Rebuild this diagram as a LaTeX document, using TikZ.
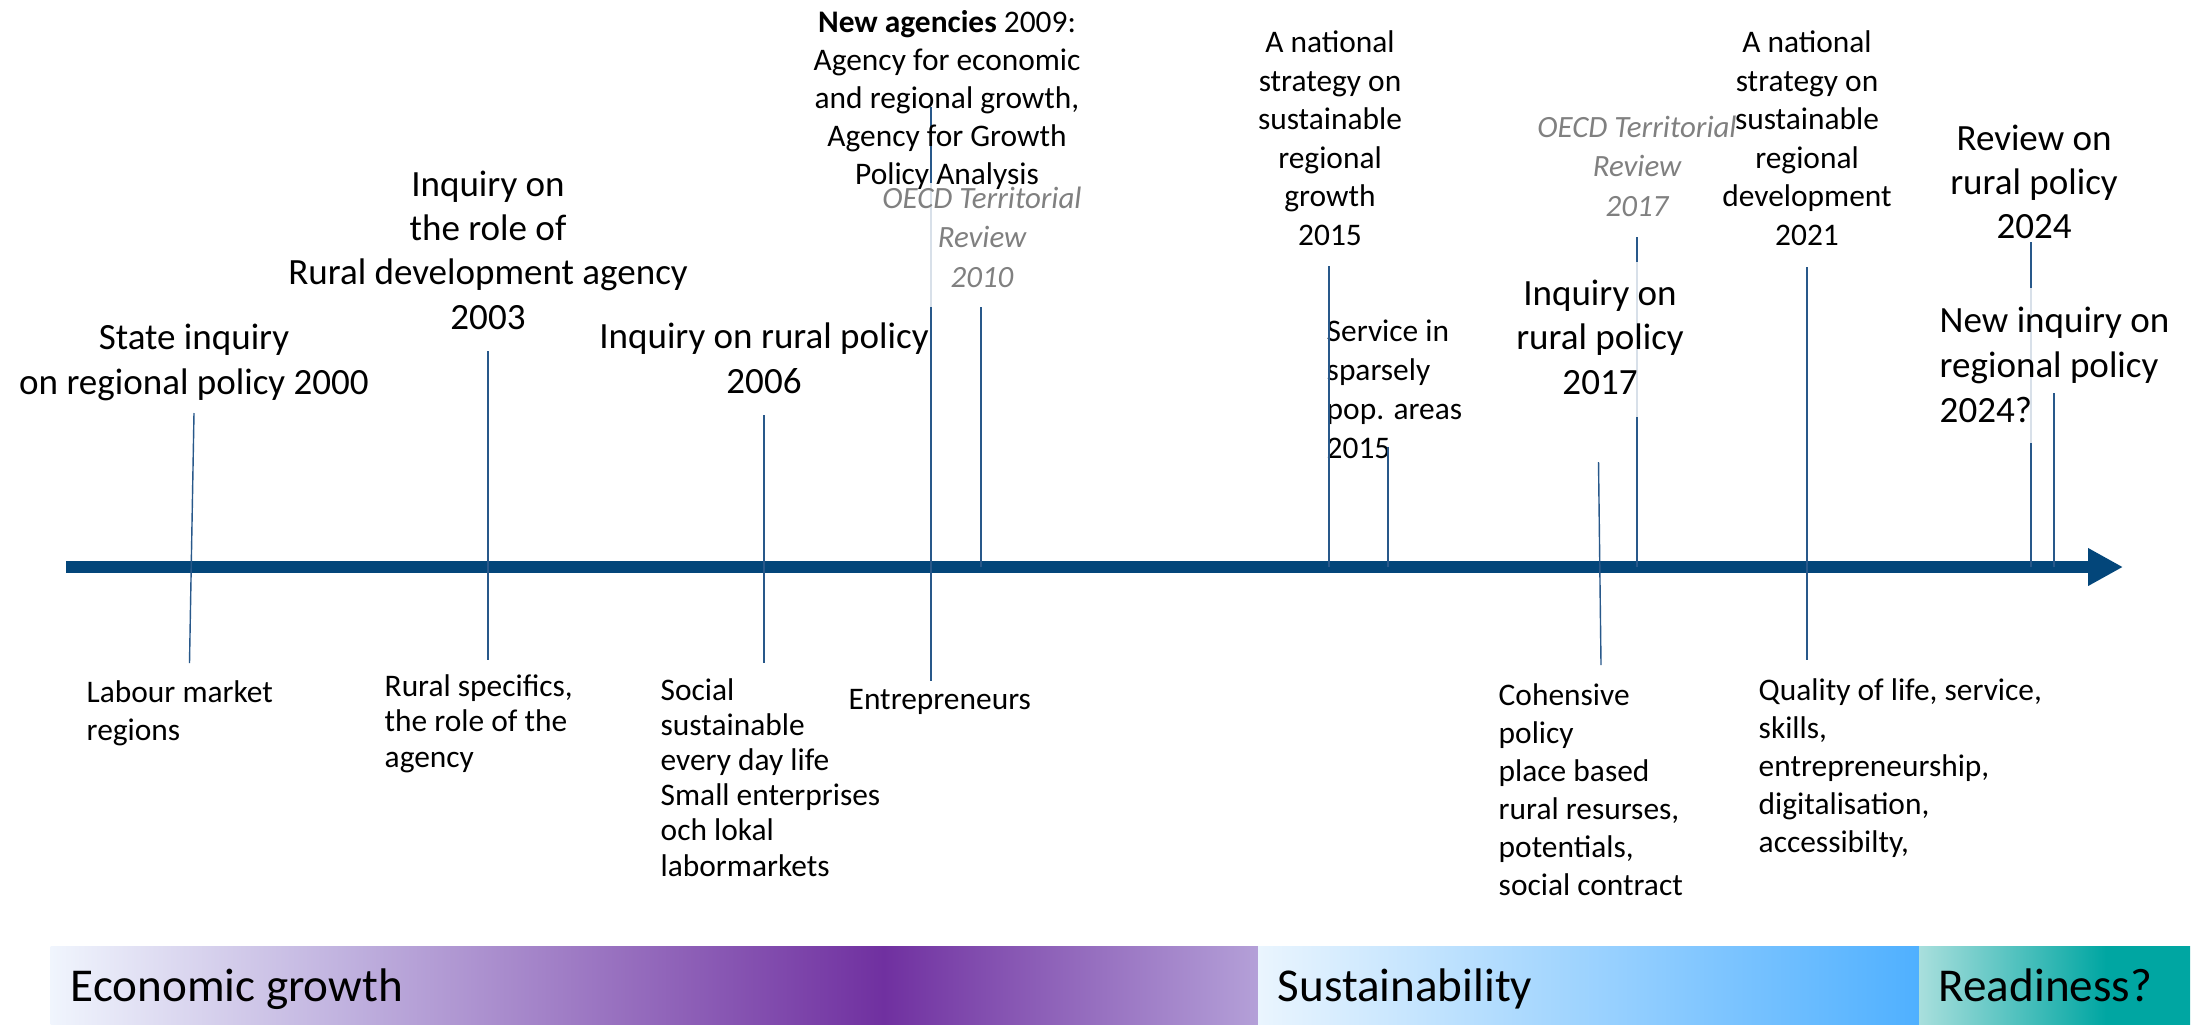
\documentclass[tikz,border=0pt]{standalone}
\usepackage{fontspec}
\setmainfont{Carlito}
\usetikzlibrary{arrows.meta}

% palette
\definecolor{axisblue}{RGB}{3,70,122}
\definecolor{tickblue}{RGB}{40,88,138}
\definecolor{oecdgray}{RGB}{128,128,128}
\definecolor{ecA}{HTML}{F0F5FD}
\definecolor{ecB}{HTML}{BFB0DE}
\definecolor{ecC}{HTML}{7030A0}
\definecolor{ecD}{HTML}{B4A0D8}
\definecolor{suA}{HTML}{EAF5FE}
\definecolor{suB}{HTML}{4FB0FF}
\definecolor{rdA}{HTML}{A9DFDD}
\definecolor{rdB}{HTML}{00A6A2}

% era bands (inner 25bp..75bp is stretched over the band)
\pgfdeclarehorizontalshading{econband}{100bp}{color(0bp)=(ecA); color(25bp)=(ecA); color(37.5bp)=(ecB); color(59.5bp)=(ecC); color(75bp)=(ecD); color(100bp)=(ecD)}
\pgfdeclarehorizontalshading{readyband}{100bp}{color(0bp)=(rdA); color(25bp)=(rdA); color(59.5bp)=(rdB); color(100bp)=(rdB)}

% multi-line labels are placed by the baseline of their last line
\tikzset{
  lbl/.style={inner sep=0pt, text=black},
  bigc/.style={lbl, align=center, anchor=base, font=\fontsize{10.53pt}{#1}\selectfont},
  bigc/.default=12.52pt,
  bigl/.style={lbl, align=left, anchor=base west, font=\fontsize{10.53pt}{#1}\selectfont},
  bigl/.default=12.52pt,
  medc/.style={lbl, align=center, anchor=base, font=\fontsize{8.93pt}{#1}\selectfont},
  medc/.default=10.93pt,
  medl/.style={lbl, align=left, anchor=base west, font=\fontsize{8.93pt}{#1}\selectfont},
  medl/.default=10.93pt,
  oecd/.style={lbl, align=center, anchor=base, text=oecdgray, font=\fontsize{8.8pt}{11.1pt}\selectfont\itshape},
  bandtxt/.style={lbl, anchor=base west, font=\fontsize{13.4pt}{16pt}\selectfont},
  veil/.style={inner sep=0pt, draw=none, fill=white, fill opacity=0.82},
  tick/.style={draw=tickblue, line width=0.4pt},
  axisline/.style={draw=axisblue, line width=3.3pt, -{Triangle[length=9.96pt, width=10.07pt]}}
}

\begin{document}
\begin{tikzpicture}[x=0.01cm, y=-0.01cm]
\useasboundingbox (0,0) rectangle (2201,1024);

% ---- era bands ----
\shade[shading=econband] (50.5,946) rectangle (1258,1024);
\shade[left color=suA, right color=suB] (1258,946) rectangle (1919,1024);
\shade[shading=readyband] (1919,946) rectangle (2190,1024);
\node[bandtxt] (tEcon) at (70,1001) {Economic growth};
\node[bandtxt] (tSust) at (1277,1001) {Sustainability};
\node[bandtxt] (tRead) at (1938,1001) {Readiness?};

% ---- time axis ----
\coordinate (axL) at (66,567);
\coordinate (axR) at (2123,567);
\draw[axisline] (axL) -- (axR);

% ---- tick end points ----
\coordinate (t2000) at (194,413);   \coordinate (e2000) at (189.5,663);
\coordinate (t2003) at (488,351);   \coordinate (e2003) at (488,660);
\coordinate (t2006) at (764,415);   \coordinate (e2006) at (764,663);
\coordinate (t2009) at (931,107);   \coordinate (e2009) at (931,681);
\coordinate (t2010) at (981,307);   \coordinate (e2010) at (981,567);
\coordinate (t2015) at (1329,266);  \coordinate (e2015) at (1329,567);
\coordinate (t2015s) at (1388,447); \coordinate (e2015s) at (1388,567);
\coordinate (t2017) at (1598.5,462);\coordinate (e2017) at (1601,665);
\coordinate (t2017o) at (1637,237); \coordinate (e2017o) at (1637,567);
\coordinate (t2021) at (1807,267);  \coordinate (e2021) at (1807,660);
\coordinate (t2024r) at (2031,242); \coordinate (e2024r) at (2031,567);
\coordinate (t2024n) at (2054,393); \coordinate (e2024n) at (2054,567);

% ticks that run behind translucent text boxes
\draw[tick] (t2009) -- (e2009);
\draw[tick] (t2017o) -- (e2017o);
\draw[tick] (t2024r) -- (e2024r);

% translucent text boxes
\node[veil, minimum width=61.2pt, minimum height=35.3pt] (vA) at (982.5,245) {};
\node[veil, minimum width=48.4pt, minimum height=44.1pt] (vB) at (1600,339.5) {};
\node[veil, minimum width=61.2pt, minimum height=44.1pt] (vC) at (2042.5,365.5) {};

% ---- events above the axis ----
\node[bigc] (n2000) at (194,394) {State inquiry\\on regional policy 2000};
\node[bigc] (n2003) at (488,329) {Inquiry on\\the role of\\Rural development agency\\2003};
\node[bigc] (n2006) at (764,393) {Inquiry on rural policy\\2006};
\node[medc=10.8pt] (n2009) at (947,184) {\textbf{New agencies} 2009:\\Agency for economic\\and regional growth,\\Agency for Growth\\Policy Analysis};
\node[oecd] (o2010) at (982,287) {OECD Territorial\\Review\\2010};
\node[medc] (n2015) at (1330,245) {A national\\strategy on\\sustainable\\regional\\growth\\2015};
\node[medl=11pt] (s2015) at (1326,458) {Service in\\sparsely\\pop. areas\\2015};
\node[bigc] (n2017) at (1600,394) {Inquiry on\\rural policy\\2017};
\node[oecd] (o2017) at (1637,216) {OECD Territorial\\Review\\2017};
\node[medc] (n2021) at (1807,245) {A national\\strategy on\\sustainable\\regional\\development\\2021};
\node[bigc=12.38pt] (n2024r) at (2034,238) {Review on\\rural policy\\2024};
\node[bigl=12.66pt] (n2024n) at (1939,422) {New inquiry on\\regional policy\\2024?};

% ---- themes below the axis ----
\node[medl=10.53pt] (b2000) at (86,740) {Labour market\\regions};
\node[medl=9.96pt] (b2003) at (384,767) {Rural specifics,\\the role of the\\agency};
\node[medl=10.0pt] (b2006) at (660,876) {Social\\sustainable\\every day life\\Small enterprises\\och lokal\\labormarkets};
\node[medl] (b2009) at (848,709) {Entrepreneurs};
\node[medl=10.8pt] (b2017) at (1498,895) {Cohensive\\policy\\place based\\rural resurses,\\potentials,\\social contract};
\node[medl=10.8pt] (b2021) at (1758,852) {Quality of life, service,\\skills,\\entrepreneurship,\\digitalisation,\\accessibilty,};

% ---- remaining ticks ----
\draw[tick] (t2000) -- (e2000);
\draw[tick] (t2003) -- (e2003);
\draw[tick] (t2006) -- (e2006);
\draw[tick] (t2010) -- (e2010);
\draw[tick] (t2015) -- (e2015);
\draw[tick] (t2015s) -- (e2015s);
\draw[tick] (t2017) -- (e2017);
\draw[tick] (t2021) -- (e2021);
\draw[tick] (t2024n) -- (e2024n);
\end{tikzpicture}
\end{document}
